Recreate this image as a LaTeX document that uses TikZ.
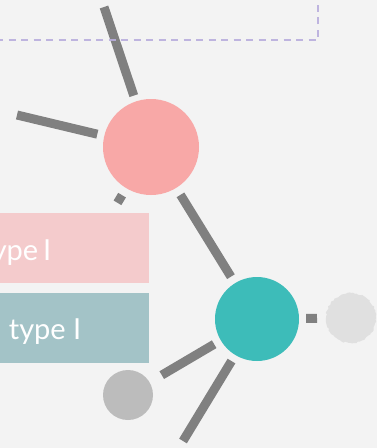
\documentclass[tikz,border=0pt]{standalone}
\usepackage{fontspec}
\setmainfont{Lato}
\usetikzlibrary{positioning, calc, decorations.pathmorphing}

\definecolor{bgcol}{HTML}{F3F3F3}
\definecolor{linkcol}{HTML}{808080}
\definecolor{rosecol}{HTML}{F8A8A7}
\definecolor{tealcol}{HTML}{3DBCB9}
\definecolor{greycol}{HTML}{BCBCBC}
\definecolor{ghostcol}{HTML}{E0E0E0}
\definecolor{rosebox}{HTML}{F4CBCC}
\definecolor{tealbox}{HTML}{A3C3C7}
\definecolor{framecol}{HTML}{B9AEDD}

\tikzset{
  ball/.style={circle, inner sep=0pt, minimum size=#1},
  link/.style={draw=linkcol, line width=9pt},
  lbl/.style={text=white, inner sep=0pt, anchor=base east, font=\fontsize{29}{34}\selectfont}
}

\begin{document}
\begin{tikzpicture}[x=1pt, y=-1pt]
  \useasboundingbox (0,0) rectangle (377,448);
  \clip (0,0) rectangle (377,448);
  \fill[bgcol] (0,0) rectangle (377,448);

  % the graph
  \node[ball=96pt, fill=rosecol] (rose) at (151,147) {};
  \node[ball=84pt, fill=tealcol] (teal) at (257,319) {};
  \node[ball=50pt, fill=greycol] (grey) at (128,395) {};
  \fill[ghostcol, decorate, decoration={random steps, segment length=2pt, amplitude=0.8pt}]
    (351,318) circle (25);
  \coordinate (ghost) at (351,318);

  % loose ends
  \coordinate (up) at (104,7);
  \coordinate (left) at (17,115);
  \coordinate (low) at (117.5,202.8);
  \coordinate (down) at (183,441);

  \draw[link, shorten <=6pt] (rose) -- (up);
  \draw[link, shorten <=7pt] (rose) -- (left);
  \draw[link, shorten <=8pt] (rose) -- (low);
  \draw[link, shorten <=8pt, shorten >=7.5pt] (rose) -- (teal);
  \draw[link, shorten <=7.5pt, shorten >=14pt] (teal) -- (grey);
  \draw[link, shorten <=7pt] (teal) -- (down);
  \draw[link, shorten <=7pt, shorten >=34pt] (teal) -- (ghost);

  % dashed frame
  \draw[framecol, line width=2pt, dash pattern=on 7pt off 5.5pt, opacity=0.9]
    (-4,39.5) -- (318,39.5) -- (318,-4);

  % legend
  \fill[rosebox] (-20,213) rectangle (149,283);
  \fill[tealbox] (-20,293) rectangle (149,363);
  \node[lbl] (roselbl) at (51.5,260) {type{\kern-2.5pt} I};
  \node[lbl] (teallbl) at (81.5,339.5) {type I};
\end{tikzpicture}
\end{document}
